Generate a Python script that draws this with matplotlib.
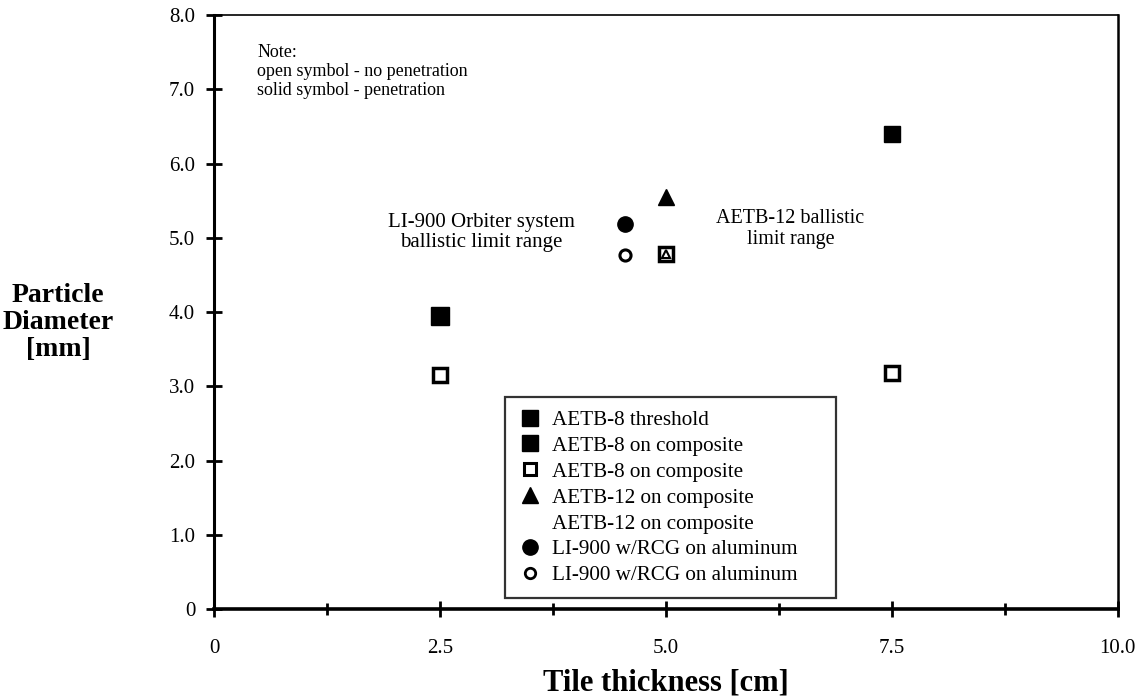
import matplotlib
matplotlib.use("Agg")
import matplotlib.pyplot as plt
from matplotlib.lines import Line2D

plt.rcParams["font.family"] = ["Liberation Serif", "DejaVu Serif"]

# data (x = tile thickness cm, y = particle diameter mm)
thresh_x = [2.5]
thresh_y = [3.95]
a8_fill_x = [7.5]
a8_fill_y = [6.4]
a8_open_x = [2.5, 5.0, 7.5]
a8_open_y = [3.15, 4.78, 3.18]
a12_fill_x = [5.0]
a12_fill_y = [5.55]
a12_open_x = [5.0]
a12_open_y = [4.78]
li_fill_x = [4.55]
li_fill_y = [5.18]
li_open_x = [4.55]
li_open_y = [4.77]

legend_labels = [
    "AETB-8 threshold",
    "AETB-8 on composite",
    "AETB-8 on composite",
    "AETB-12 on composite",
    "AETB-12 on composite",
    "LI-900 w/RCG on aluminum",
    "LI-900 w/RCG on aluminum",
]

fig = plt.figure(figsize=(11.38, 6.97), dpi=100)
ax = fig.add_axes([0.188, 0.1263, 0.794, 0.852])

k = dict(linestyle="none", color="black")
ax.plot(thresh_x, thresh_y, marker="s", markersize=12.5, **k)
ax.plot(a8_fill_x, a8_fill_y, marker="s", markersize=11.5, **k)
ax.plot(a8_open_x, a8_open_y, marker="s", markersize=9.5, mfc="white", mew=2.5, **k)
ax.plot(a12_fill_x, a12_fill_y, marker="^", markersize=11, **k)
ax.plot(a12_open_x, a12_open_y, marker="^", markersize=6, mfc="white", mew=1.5, **k)
ax.plot(li_fill_x, li_fill_y, marker="o", markersize=11, **k)
ax.plot(li_open_x, li_open_y, marker="o", markersize=8, mfc="white", mew=2.2, **k)

ax.set_xlim(0, 10)
ax.set_ylim(0, 8)
ax.set_xticks([0, 2.5, 5.0, 7.5, 10.0])
ax.set_xticklabels(["0", "2.5", "5.0", "7.5", "10.0"])
ax.set_xticks([1.25, 3.75, 6.25, 8.75], minor=True)
ax.set_yticks(range(9))
ax.set_yticklabels(["0", "1.0", "2.0", "3.0", "4.0", "5.0", "6.0", "7.0", "8.0"])
ax.tick_params(axis="both", which="major", direction="inout", length=11, width=2,
               labelsize=15, pad=8)
ax.tick_params(axis="x", which="minor", direction="inout", length=9, width=2)
ax.tick_params(axis="x", which="major", pad=16)

ax.spines["left"].set_linewidth(2.2)
ax.spines["bottom"].set_linewidth(2.6)
ax.spines["top"].set_linewidth(1.2)
ax.spines["right"].set_linewidth(1.8)

ax.set_xlabel("Tile thickness [cm]", fontsize=22, fontweight="bold", labelpad=8)
fig.text(0.051, 0.537, "Particle\nDiameter\n[mm]", ha="center", va="center",
         fontsize=20, fontweight="bold", linespacing=1.1)

ax.text(0.048, 0.952, "Note:\nopen symbol - no penetration\nsolid symbol - penetration",
        transform=ax.transAxes, ha="left", va="top", fontsize=13, linespacing=1.15)
ax.text(2.96, 5.07, "LI-900 Orbiter system\nballistic limit range",
        ha="center", va="center", fontsize=15, linespacing=1.1)
ax.text(6.38, 5.12, "AETB-12 ballistic\nlimit range",
        ha="center", va="center", fontsize=14.5, linespacing=1.1)

handles = [
    Line2D([], [], marker="s", markersize=12, **k),
    Line2D([], [], marker="s", markersize=12, **k),
    Line2D([], [], marker="s", markersize=8.5, mfc="white", mew=2.2, **k),
    Line2D([], [], marker="^", markersize=11, **k),
    Line2D([], [], marker="none", **k),
    Line2D([], [], marker="o", markersize=11, **k),
    Line2D([], [], marker="o", markersize=7.5, mfc="white", mew=2, **k),
]
leg = ax.legend(handles, legend_labels, loc="lower left",
                bbox_to_anchor=(0.322, 0.0185, 0.366, 0.3), mode="expand",
                fontsize=15.2, frameon=True, fancybox=False, handlelength=1.14,
                handletextpad=0.47, labelspacing=0.29, borderpad=0.6,
                borderaxespad=0)
leg.get_frame().set_edgecolor("black")
leg.get_frame().set_linewidth(1.6)

fig.savefig("out.png", dpi=100)
